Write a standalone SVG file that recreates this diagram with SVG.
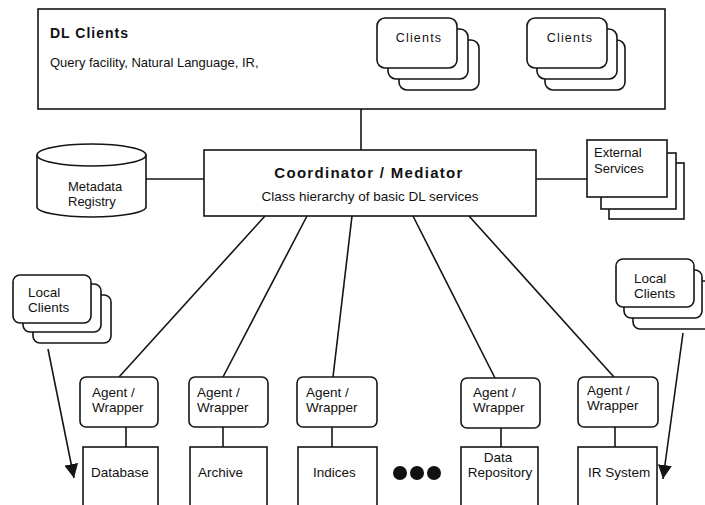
<svg xmlns="http://www.w3.org/2000/svg" width="705" height="505" viewBox="0 0 705 505">
  <style>
    .box { fill: #fff; stroke: #151515; stroke-width: 1.6; }
    .line { fill: none; stroke: #151515; stroke-width: 1.6; }
    text { font-family: "Liberation Sans", Arial, sans-serif; fill: #111; }
    .small { font-size: 13.5px; }
    .mid { font-size: 13px; }
    .title { font-size: 14px; font-weight: bold; letter-spacing: 1px; }
    .coord { font-size: 15px; font-weight: bold; letter-spacing: 1.3px; }
    .clients { font-size: 12.5px; letter-spacing: 1.2px; }
  </style>
  <defs>
    <marker id="arrow" markerUnits="userSpaceOnUse" markerWidth="14" markerHeight="14" refX="14" refY="7" orient="auto">
      <path d="M0,0 L14,7 L0,14 Z" fill="#151515"/>
    </marker>
    <!-- stacked card for client groups -->
    <rect id="card" width="80" height="50" rx="8" ry="8" class="box"/>
    <rect id="lcard" width="78" height="48" rx="7" ry="7" class="box"/>
  </defs>

  <rect width="705" height="505" fill="#fff"/>

  <!-- connectors -->
  <g id="connectors">
    <line class="line" x1="361" y1="109" x2="361" y2="150"/>
    <line class="line" x1="146" y1="179" x2="204" y2="179"/>
    <line class="line" x1="536" y1="179" x2="587" y2="179"/>
    <line class="line" x1="265" y1="216" x2="119" y2="377"/>
    <line class="line" x1="307" y1="216" x2="223" y2="377"/>
    <line class="line" x1="352" y1="216" x2="333" y2="377"/>
    <line class="line" x1="413" y1="216" x2="495" y2="378"/>
    <line class="line" x1="469" y1="216" x2="614" y2="377"/>
    <line class="line" x1="126" y1="427" x2="126" y2="447"/>
    <line class="line" x1="223" y1="427" x2="223" y2="447"/>
    <line class="line" x1="332" y1="427" x2="332" y2="447"/>
    <line class="line" x1="501" y1="428" x2="501" y2="447"/>
    <line class="line" x1="615" y1="427" x2="615" y2="447"/>
    <line class="line" x1="48" y1="349" x2="74" y2="478" marker-end="url(#arrow)"/>
    <line class="line" x1="683" y1="333" x2="663" y2="479" marker-end="url(#arrow)"/>
  </g>

  <!-- DL clients panel -->
  <g id="dl-clients">
    <rect class="box" x="38" y="9" width="627" height="100"/>
    <text class="title" x="50" y="38">DL Clients</text>
    <text class="mid" x="50" y="67">Query facility, Natural Language, IR,</text>
  </g>

  <g id="clients-1">
    <use href="#card" x="399" y="40"/>
    <use href="#card" x="388" y="29"/>
    <use href="#card" x="377" y="18"/>
    <text class="clients" x="419" y="42" text-anchor="middle">Clients</text>
  </g>

  <g id="clients-2">
    <use href="#card" x="545" y="40"/>
    <use href="#card" x="537" y="29"/>
    <use href="#card" x="527" y="18"/>
    <text class="clients" x="570" y="42" text-anchor="middle">Clients</text>
  </g>

  <!-- metadata registry cylinder -->
  <g id="metadata-registry">
    <path class="box" d="M37,155 A54.5,11 0 0 1 146,155 L146,207 A54.5,10 0 0 1 37,207 Z"/>
    <path class="line" d="M37,155 A54.5,11 0 0 0 146,155"/>
    <text class="mid" x="68" y="191">Metadata</text>
    <text class="mid" x="68" y="206">Registry</text>
  </g>

  <g id="coordinator">
    <rect class="box" x="204" y="150" width="332" height="66"/>
    <text class="coord" x="369" y="178" text-anchor="middle">Coordinator / Mediator</text>
    <text class="small" x="370" y="201" text-anchor="middle">Class hierarchy of basic DL services</text>
  </g>

  <g id="external-services">
    <rect class="box" x="609" y="163" width="75" height="56"/>
    <rect class="box" x="601" y="153" width="75" height="56"/>
    <rect class="box" x="587" y="140" width="80" height="57"/>
    <text class="mid" x="594" y="157">External</text>
    <text class="mid" x="594" y="173">Services</text>
  </g>

  <g id="local-clients-left">
    <use href="#lcard" x="33" y="295"/>
    <use href="#lcard" x="23" y="284"/>
    <use href="#lcard" x="13" y="275"/>
    <text class="small" x="28" y="297">Local</text>
    <text class="small" x="28" y="312">Clients</text>
  </g>

  <g id="local-clients-right">
    <use href="#lcard" x="633" y="281"/>
    <use href="#lcard" x="624" y="270"/>
    <use href="#lcard" x="616" y="259"/>
    <text class="small" x="634" y="283">Local</text>
    <text class="small" x="634" y="298">Clients</text>
  </g>

  <!-- agents / wrappers -->
  <g id="agent-1">
    <rect class="box" x="80" y="377" width="78" height="50" rx="6"/>
    <text class="small" x="92" y="397">Agent /</text>
    <text class="small" x="92" y="412">Wrapper</text>
  </g>
  <g id="agent-2">
    <rect class="box" x="189" y="377" width="79" height="50" rx="6"/>
    <text class="small" x="197" y="397">Agent /</text>
    <text class="small" x="197" y="412">Wrapper</text>
  </g>
  <g id="agent-3">
    <rect class="box" x="297" y="377" width="80" height="50" rx="6"/>
    <text class="small" x="306" y="397">Agent /</text>
    <text class="small" x="306" y="412">Wrapper</text>
  </g>
  <g id="agent-4">
    <rect class="box" x="461" y="378" width="79" height="50" rx="6"/>
    <text class="small" x="473" y="397">Agent /</text>
    <text class="small" x="473" y="412">Wrapper</text>
  </g>
  <g id="agent-5">
    <rect class="box" x="578" y="377" width="80" height="50" rx="6"/>
    <text class="small" x="587" y="395">Agent /</text>
    <text class="small" x="587" y="410">Wrapper</text>
  </g>

  <!-- data sources -->
  <g id="database">
    <rect class="box" x="83" y="447" width="75" height="70"/>
    <text class="small" x="91" y="477">Database</text>
  </g>
  <g id="archive">
    <rect class="box" x="190" y="447" width="77" height="70"/>
    <text class="small" x="198" y="477">Archive</text>
  </g>
  <g id="indices">
    <rect class="box" x="298" y="447" width="79" height="70"/>
    <text class="small" x="313" y="477">Indices</text>
  </g>
  <g id="more">
    <circle cx="400" cy="473" r="7" fill="#111"/>
    <circle cx="417" cy="473" r="7" fill="#111"/>
    <circle cx="434" cy="473" r="7" fill="#111"/>
  </g>
  <g id="data-repository">
    <rect class="box" x="461" y="447" width="77" height="70"/>
    <text class="small" x="498" y="462" text-anchor="middle">Data</text>
    <text class="small" x="500" y="477" text-anchor="middle">Repository</text>
  </g>
  <g id="ir-system">
    <rect class="box" x="578" y="447" width="79" height="70"/>
    <text class="small" x="588" y="477">IR System</text>
  </g>
</svg>
